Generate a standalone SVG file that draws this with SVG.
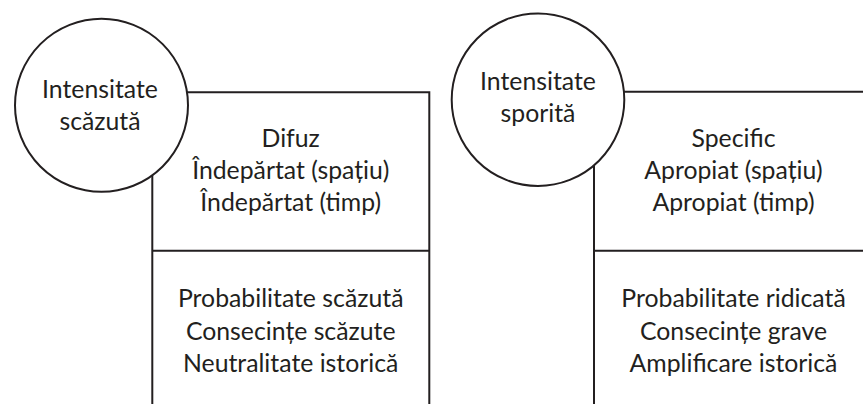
<svg xmlns="http://www.w3.org/2000/svg" width="863" height="404" viewBox="0 0 863 404">
<style>
.ln{stroke:#231f20;stroke-width:2;fill:none}
.cir{stroke:#231f20;stroke-width:2;fill:#fff}
text{font-family:Lato,"Liberation Sans",sans-serif;font-size:24.8px;fill:#231f20;text-anchor:middle}
</style>
<rect width="863" height="404" fill="#fff"/>
<g id="connectors">
<path class="ln" d="M152.3,92.3 H429.3 V404 M152.3,92.3 V404 M152.3,250.7 H429.3"/>
<path class="ln" d="M594,91.7 H875 M594,91.7 V404 M594,250.7 H875"/>
</g>
<g id="low-box-top">
<text x="290.7" y="146.7">Difuz</text>
<text x="290.7" y="179">Îndepărtat (spațiu)</text>
<text x="290.7" y="211">Îndepărtat (timp)</text>
</g>
<g id="low-box-bottom">
<text x="290.7" y="306.7">Probabilitate scăzută</text>
<text x="290.7" y="339.5">Consecințe scăzute</text>
<text x="290.7" y="371.7">Neutralitate istorică</text>
</g>
<g id="high-box-top">
<text x="733.5" y="146.7">Specific</text>
<text x="733.5" y="179">Apropiat (spațiu)</text>
<text x="733.5" y="211">Apropiat (timp)</text>
</g>
<g id="high-box-bottom">
<text x="733.5" y="306.7">Probabilitate ridicată</text>
<text x="733.5" y="339.5">Consecințe grave</text>
<text x="733.5" y="371.7">Amplificare istorică</text>
</g>
<g id="low-circle">
<circle class="cir" cx="101.5" cy="105.3" r="86.5"/>
<text x="100" y="97.7">Intensitate</text>
<text x="100" y="129.5">scăzută</text>
</g>
<g id="high-circle">
<circle class="cir" cx="538" cy="99.7" r="86.3"/>
<text x="538" y="90">Intensitate</text>
<text x="538" y="122">sporită</text>
</g>
</svg>
